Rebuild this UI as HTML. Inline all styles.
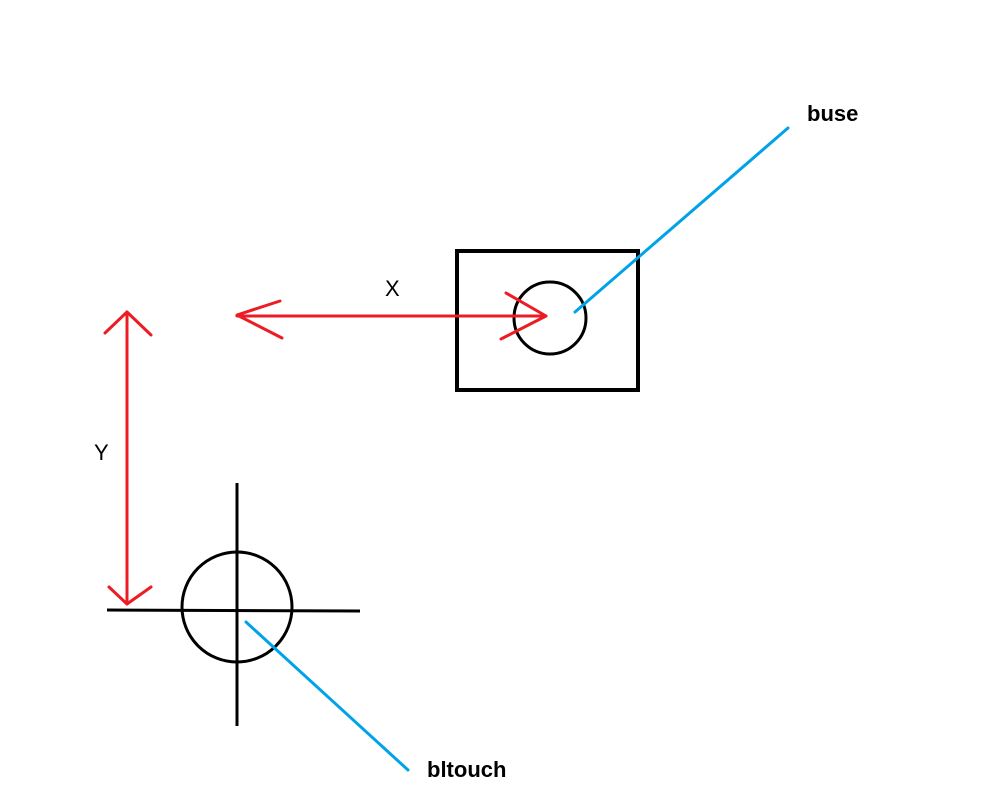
<!DOCTYPE html>
<html><head><meta charset="utf-8"><style>
html,body{margin:0;padding:0;background:#fff;}
svg{display:block;}
text{font-family:"Liberation Sans",sans-serif;fill:#000;}
</style></head><body>
<svg width="1000" height="797" viewBox="0 0 1000 797" xmlns="http://www.w3.org/2000/svg">
<rect width="1000" height="797" fill="#fff"/>
<g fill="none" stroke="#000" stroke-width="3">
<rect x="457" y="251" width="181" height="139" stroke-width="4"/>
<circle cx="550" cy="318" r="36"/>
<circle cx="237" cy="607" r="55"/>
<line x1="107" y1="610" x2="360" y2="611"/>
<line x1="237" y1="483" x2="237" y2="726"/>
</g>
<g fill="none" stroke="#ed1c24" stroke-width="3" stroke-linecap="round" stroke-linejoin="round">
<line x1="127" y1="312" x2="127" y2="604"/>
<polyline points="105,333 127,312 151,335"/>
<polyline points="109,587 127,604 151,587"/>
<line x1="237" y1="316" x2="546" y2="316"/>
<polyline points="280,301 237,315 282,338"/>
<polyline points="506,293 546,316 501,339"/>
</g>
<g stroke="#00a2e8" stroke-width="3" stroke-linecap="round">
<line x1="575" y1="312" x2="788" y2="128"/>
<line x1="246" y1="622" x2="408" y2="770"/>
</g>
<text x="385" y="296" font-size="22">X</text>
<text x="94" y="460" font-size="22">Y</text>
<text x="807" y="121" font-size="22" font-weight="bold">buse</text>
<text x="427" y="777" font-size="22" font-weight="bold">bltouch</text>
</svg>
</body></html>
